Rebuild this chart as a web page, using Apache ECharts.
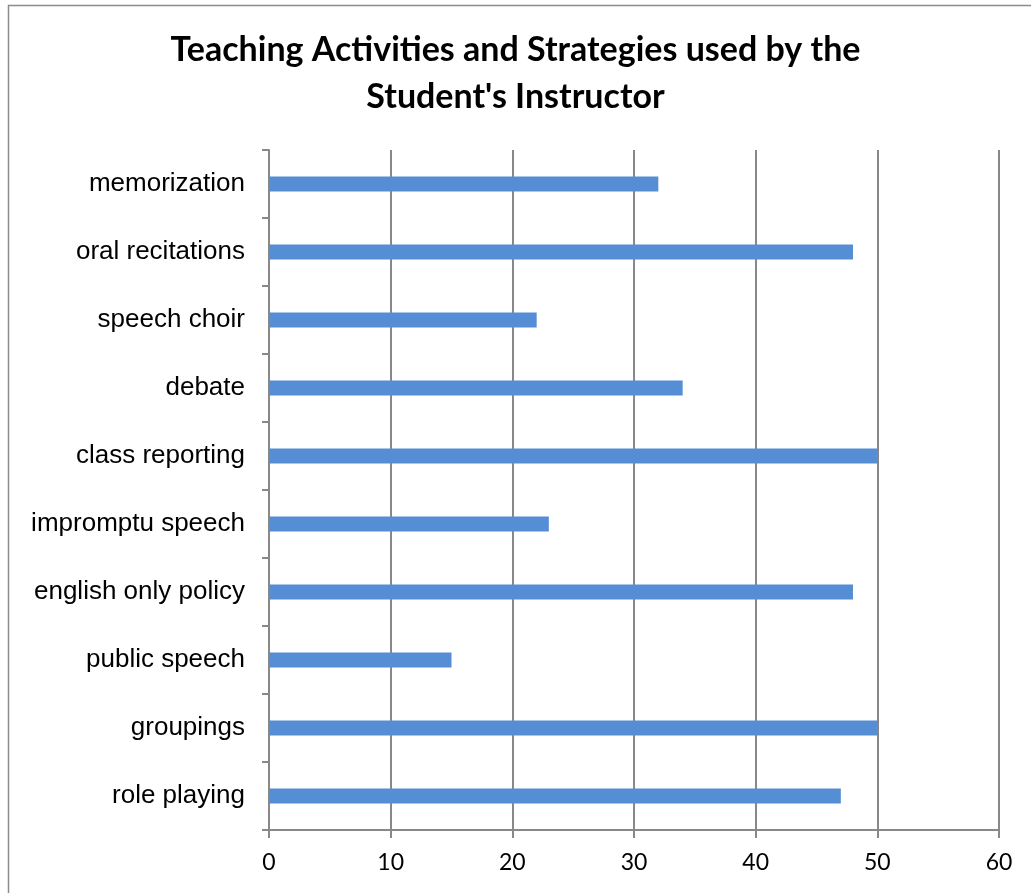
<!DOCTYPE html>
<html><head><meta charset="utf-8">
<script src="https://cdn.jsdelivr.net/npm/echarts@6/dist/echarts.min.js"></script>
<style>html,body{margin:0;padding:0;background:#fff}#c{width:1031px;height:893px}</style>
</head><body><div id="c"></div>
<script>
const categories = ["memorization","oral recitations","speech choir","debate","class reporting","impromptu speech","english only policy","public speech","groupings","role playing"];
const values = [32,48,22,34,50,23,48,15,50,47];
const xTicks = [0,10,20,30,40,50,60];

const chart = echarts.init(document.getElementById('c'), null, {renderer:'canvas'});
chart.setOption({
  animation:false,
  backgroundColor:'#fff',
  graphic:[{type:'rect',shape:{x:8.5,y:5.5,width:1040,height:900},style:{fill:'none',stroke:'#8c8c8c',lineWidth:1.5},silent:true}],
  title:{text:"Teaching Activities and Strategies used by the\nStudent's Instructor",left:'center',top:22,
    textStyle:{fontFamily:'Lato',fontWeight:'bold',fontSize:34,lineHeight:47,color:'#000'}},
  grid:{left:269,right:32,top:150,bottom:63,containLabel:false},
  xAxis:{type:'value',min:xTicks[0],max:xTicks[xTicks.length-1],interval:10,
    axisLine:{show:true,lineStyle:{color:'#888',width:2}},
    axisTick:{show:true,length:8,lineStyle:{color:'#888',width:2}},
    axisLabel:{fontFamily:'Lato',fontSize:23,color:'#000',margin:21}},
  yAxis:{type:'category',data:categories,inverse:true,
    axisLine:{show:true,lineStyle:{color:'#888',width:2}},
    axisTick:{show:true,length:7,lineStyle:{color:'#888',width:2}},
    axisLabel:{fontFamily:'Liberation Sans',fontSize:26,color:'#000',margin:24}},
  series:[{type:'bar',data:values,barWidth:15,itemStyle:{color:'#558ED5'}}]
});
chart.setOption({xAxis:{splitLine:{show:true,lineStyle:{color:'#888',width:2}}}});
</script></body></html>
